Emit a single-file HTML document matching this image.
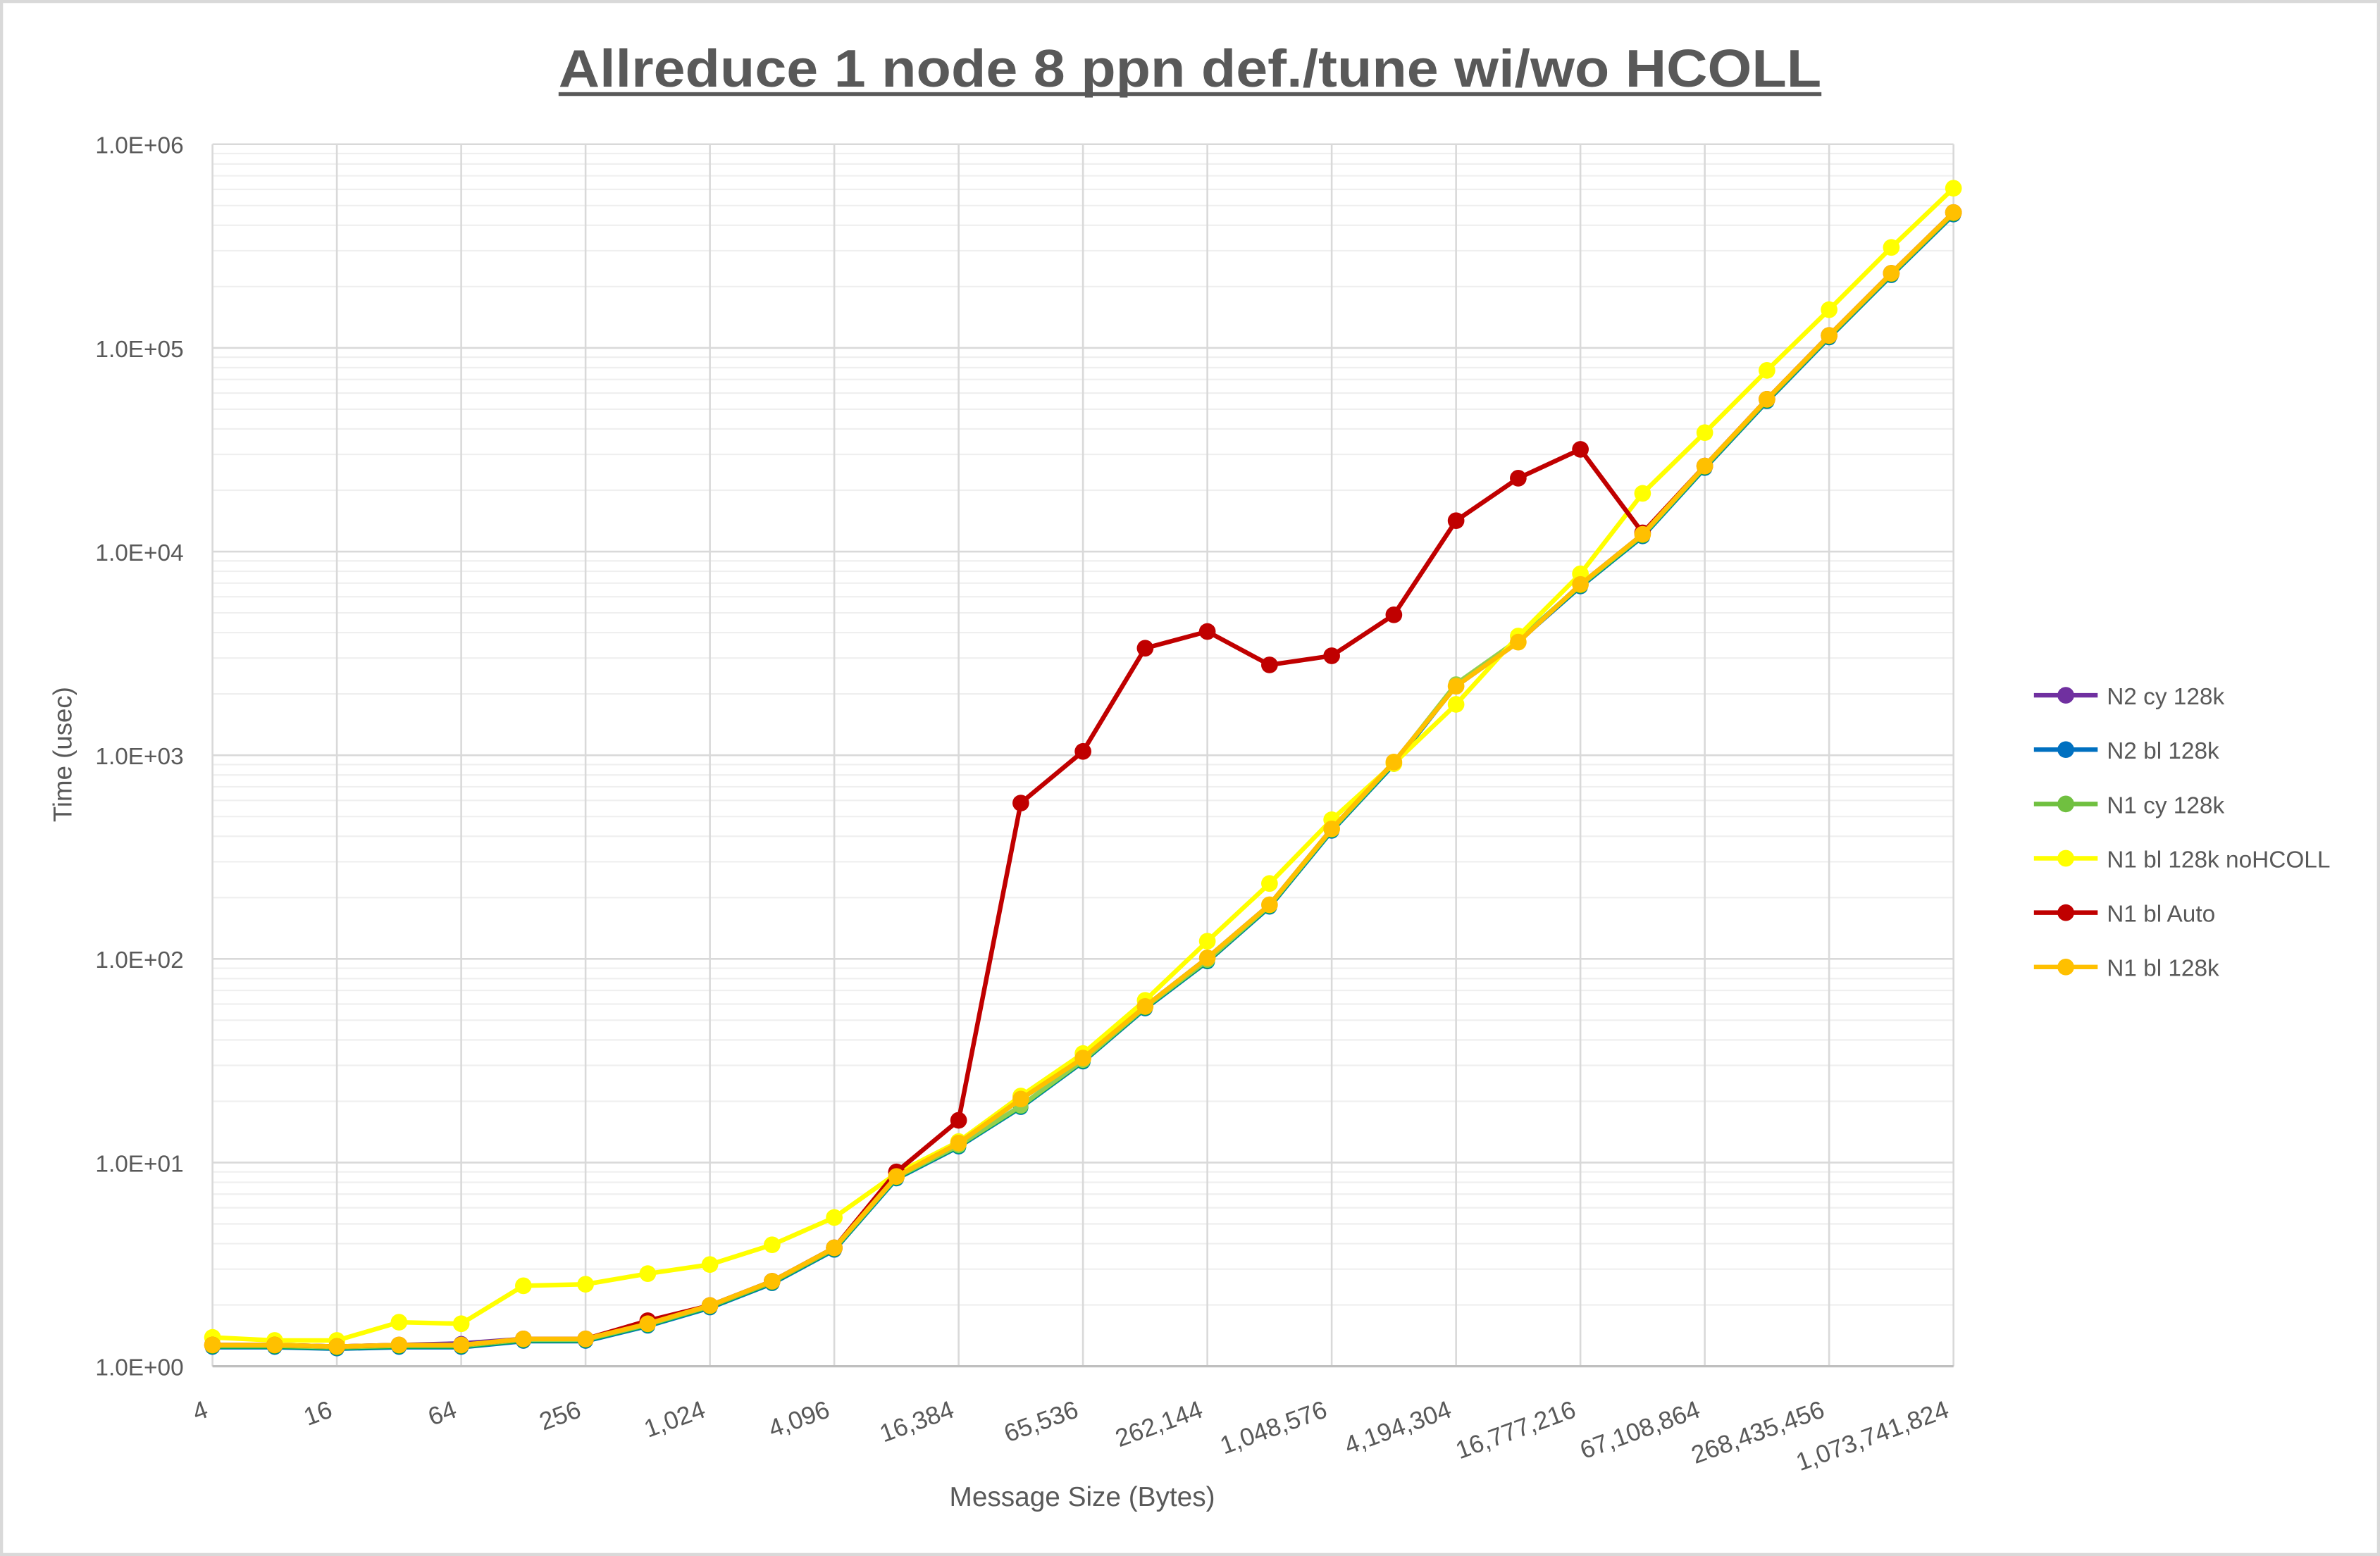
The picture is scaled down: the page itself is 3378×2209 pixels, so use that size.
<!DOCTYPE html>
<html><head><meta charset="utf-8"><style>
html,body{margin:0;padding:0;background:#fff}
svg{display:block}
text{font-family:"Liberation Sans",sans-serif;fill:#595959}
</style></head><body>
<svg width="3378" height="2209" viewBox="0 0 1568 1025" preserveAspectRatio="none" xmlns="http://www.w3.org/2000/svg">
<rect x="1" y="1" width="1566" height="1023" fill="#fff" stroke="#d9d9d9" stroke-width="2"/>
<text x="368" y="57" font-size="35" font-weight="bold" textLength="832" lengthAdjust="spacingAndGlyphs">Allreduce 1 node 8 ppn def./tune wi/wo HCOLL</text>
<line x1="368" y1="62" x2="1200" y2="62" stroke="#595959" stroke-width="2.5"/>
<g id="grid"></g>
<g id="series"></g>
<g id="labels"></g>
<text transform="translate(47,497) rotate(-90)" text-anchor="middle" font-size="17">Time (usec)</text>
<text x="713" y="992" text-anchor="middle" font-size="18">Message Size (Bytes)</text>
<g id="legend"></g>
<script>
var L=140,R=1287,T=95,B=900,D=(B-T)/6,S=(R-L)/28;
var ns="http://www.w3.org/2000/svg";
function el(p,n,a,t){var e=document.createElementNS(ns,n);for(var k in a)e.setAttribute(k,a[k]);if(t)e.textContent=t;document.getElementById(p).appendChild(e);return e;}
for(var d=0;d<6;d++)for(var m=2;m<10;m++){var y=B-D*(d+Math.log10(m));el("grid","line",{x1:L,x2:R,y1:y,y2:y,stroke:"#efefef","stroke-width":1});}
for(var d=0;d<=6;d++){var y=B-D*d;el("grid","line",{x1:L,x2:R,y1:y,y2:y,stroke:"#d9d9d9","stroke-width":1.2});
el("labels","text",{x:121,y:y+6,"text-anchor":"end","font-size":15.5},"1.0E+0"+d);}
var xl=["4","16","64","256","1,024","4,096","16,384","65,536","262,144","1,048,576","4,194,304","16,777,216","67,108,864","268,435,456","1,073,741,824"];
for(var i=0;i<15;i++){var x=L+i*2*S;el("grid","line",{x1:x,x2:x,y1:T,y2:B,stroke:"#d9d9d9","stroke-width":1.2});
el("labels","text",{transform:"translate("+(x-2)+",933) rotate(-20)","text-anchor":"end","font-size":16.5},xl[i]);}
el("grid","line",{x1:L,x2:R,y1:B,y2:B,stroke:"#bfbfbf","stroke-width":1.5});
var O=[886,886,887,886,886,882,882,872,860,844,822,775,753,724,697,663,631,596,546,502,452,423,385,352,307,263,221,180,140];
var Yw=[881,883,883,871,872,847,846,839,833,820,802,773,752,722,694,659,620,582,540,503,464,419,378,325,285,244,204,163,124];
var Rd=O.slice();var rr={7:870,11:772,12:738,13:529,14:495,15:427,16:416,17:438,18:432,19:405,20:343,21:315,22:296,23:351};for(var k in rr)Rd[k]=rr[k];
var G=O.map(function(v,i){return v+({12:2,13:5,14:2,15:1,16:2,20:-1,21:-1,22:1}[i]||1);});
var Bl=G.map(function(v){return v+0.5});var P=O.map(function(v,i){return v+(i==4?-1:0)});
function draw(a,c,r){var p=a.map(function(v,i){return (L+i*S)+","+v}).join(" ");
el("series","polyline",{points:p,fill:"none",stroke:c,"stroke-width":3});
a.forEach(function(v,i){el("series","circle",{cx:L+i*S,cy:v,r:r,fill:c});});}
draw(P,"#7030a0",5);draw(Bl,"#0070c0",5);draw(G,"#00b050",5);draw(G.map(function(v){return v-0.5}),"#92d050",5);
draw(Yw,"#ffff00",5.5);draw(Rd,"#c00000",5.5);draw(O,"#ffc000",5.5);
var lg=[["N2 cy 128k","#7030a0"],["N2 bl 128k","#0070c0"],["N1 cy 128k","#70c040"],["N1 bl 128k noHCOLL","#ffff00"],["N1 bl Auto","#c00000"],["N1 bl 128k","#ffc000"]];
lg.forEach(function(g,i){var y=458+i*35.8;el("legend","line",{x1:1340,x2:1382,y1:y,y2:y,stroke:g[1],"stroke-width":3});
el("legend","circle",{cx:1361,cy:y,r:5.5,fill:g[1]});
el("legend","text",{x:1388,y:y+6,"font-size":15.5},g[0]);});
</script>
</svg>
</body></html>
